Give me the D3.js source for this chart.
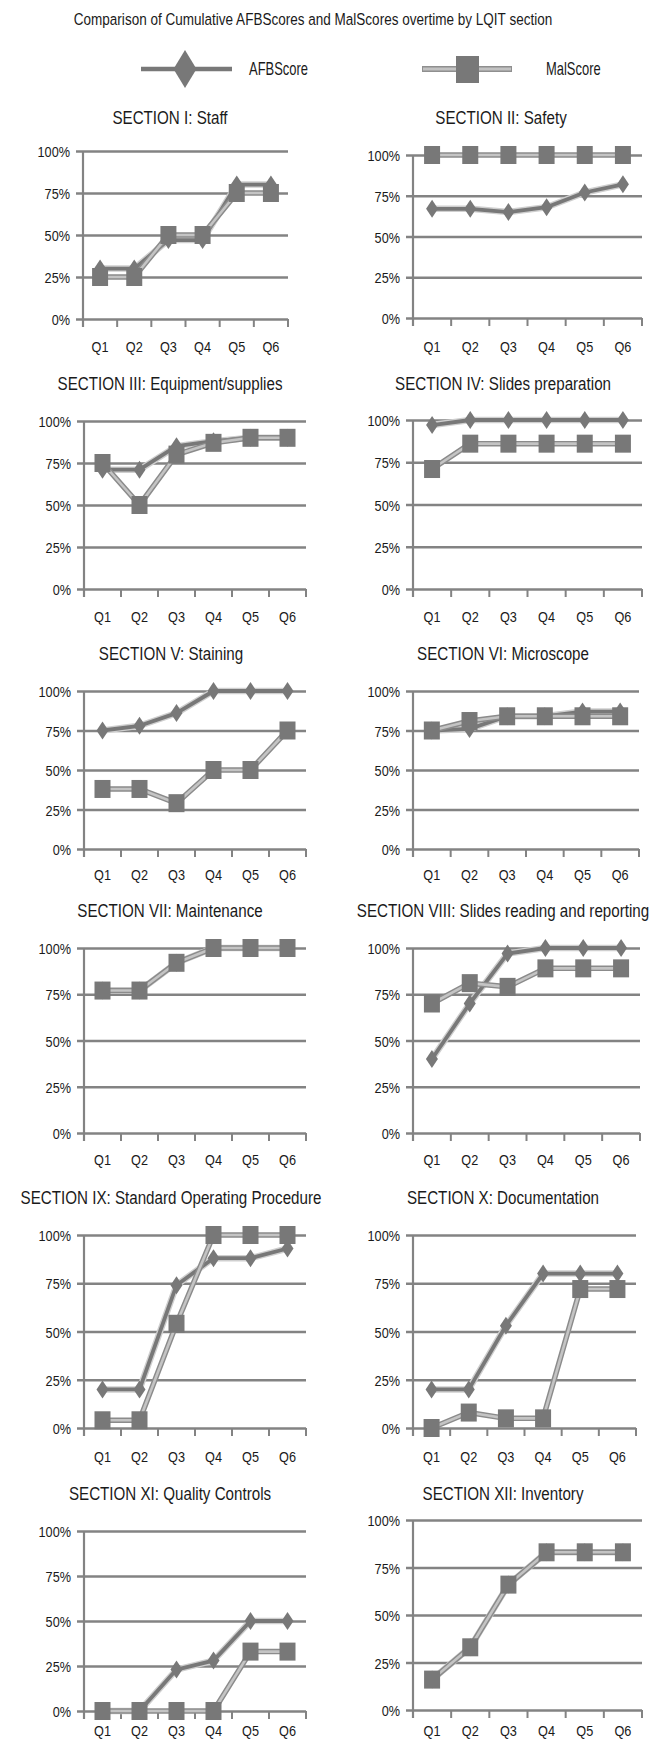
<!DOCTYPE html>
<html><head><meta charset="utf-8">
<script src="https://cdn.jsdelivr.net/npm/d3@7"></script>
<style>
body{margin:0;background:#fff}
text{font-family:"Liberation Sans",Arial,sans-serif;fill:#1a1a1a}
</style>
</head><body>
<svg id="c" width="668" height="1743"></svg>
<script>
// ---------- data ----------
const chartTitle = "Comparison of Cumulative AFBScores and MalScores overtime by LQIT section";
const seriesNames = ["AFBScore", "MalScore"];
const quarters = ["Q1", "Q2", "Q3", "Q4", "Q5", "Q6"];
const yTicks = [0, 25, 50, 75, 100];
const sectionTitles = [
  "SECTION I: Staff",
  "SECTION II: Safety",
  "SECTION III: Equipment/supplies",
  "SECTION IV: Slides preparation",
  "SECTION V: Staining",
  "SECTION VI: Microscope",
  "SECTION VII: Maintenance",
  "SECTION VIII: Slides reading and reporting",
  "SECTION IX: Standard Operating Procedure",
  "SECTION X: Documentation",
  "SECTION XI: Quality Controls",
  "SECTION XII: Inventory"
];
const afbScores = [
  [30, 30, 47, 47, 80, 80],
  [67, 67, 65, 68, 77, 82],
  [71, 71, 85, 88, 90, 90],
  [97, 100, 100, 100, 100, 100],
  [75, 78, 86, 100, 100, 100],
  [75, 76, 84, 84, 87, 87],
  [77, 77, 92, 100, 100, 100],
  [40, 70, 97, 100, 100, 100],
  [20, 20, 74, 88, 88, 93],
  [20, 20, 53, 80, 80, 80],
  [0, 0, 23, 28, 50, 50],
  [16, 33, 66, 83, 83, 83]
];
const malScores = [
  [25, 25, 50, 50, 75, 75],
  [100, 100, 100, 100, 100, 100],
  [75, 50, 80, 87, 90, 90],
  [71, 86, 86, 86, 86, 86],
  [38, 38, 29, 50, 50, 75],
  [75, 81, 84, 84, 84, 84],
  [77, 77, 92, 100, 100, 100],
  [70, 81, 79, 89, 89, 89],
  [4, 4, 54, 100, 100, 100],
  [0, 8, 5, 5, 72, 72],
  [0, 0, 0, 0, 33, 33],
  [16, 33, 66, 83, 83, 83]
];

// ---------- layout (pixel boxes of each small chart) ----------
// [x0, x1, yTop(100%), yBottom(0%), titleCenterX, titleCenterY, qLabelCenterY]
const layout = [
  [83, 288, 151, 319, 170, 117, 347],
  [413, 642, 155, 318, 501, 117, 347],
  [84, 306, 421, 589, 170, 383, 617],
  [413, 642, 420, 589, 503, 383, 617],
  [84, 306, 691, 849, 171, 653, 875],
  [413, 639, 691, 849, 503, 653, 875],
  [84, 306, 948, 1133, 170, 910, 1160],
  [413, 640, 948, 1133, 503, 910, 1160],
  [84, 306, 1235, 1428, 171, 1197, 1457],
  [413, 636, 1235, 1428, 503, 1197, 1457],
  [84, 306, 1531, 1711, 170, 1493, 1731],
  [413, 642, 1520, 1710, 503, 1493, 1731]
];

const SX = 0.82; // condensed look of the original typeface
const gridColor = "#838383";
const afbColor = "#787878";
const markerColor = "#787878";

const svg = d3.select("#c");

function label(parent, x, y, txt, size, anchor, sx) {
  return parent.append("text")
    .attr("transform", `translate(${x},${y}) scale(${sx || SX},1)`)
    .attr("text-anchor", anchor || "start")
    .style("font-size", size + "px").text(txt);
}
function diamondPath(w, h) {
  return `M0,${-h/2}L${w/2},0L0,${h/2}L${-w/2},0Z`;
}

// main title
label(svg, 313, 25, chartTitle, 16.5, "middle");

// legend
const lg = svg.append("g");
lg.append("line").attr("x1", 141).attr("x2", 232).attr("y1", 69).attr("y2", 69)
  .attr("stroke", afbColor).attr("stroke-width", 4.5);
lg.append("path").attr("d", diamondPath(23, 38)).attr("transform", "translate(185,69)")
  .attr("fill", markerColor);
label(lg, 249, 75, seriesNames[0], 17.5, "start", 0.74);
lg.append("line").attr("x1", 422).attr("x2", 512).attr("y1", 69).attr("y2", 69)
  .attr("stroke", "#8f8f8f").attr("stroke-width", 6);
lg.append("line").attr("x1", 423).attr("x2", 511).attr("y1", 69).attr("y2", 69)
  .attr("stroke", "#c2c2c2").attr("stroke-width", 3);
lg.append("rect").attr("x", 456).attr("y", 56).attr("width", 23).attr("height", 27)
  .attr("fill", markerColor);
label(lg, 546, 75, seriesNames[1], 17.5, "start", 0.74);

// panels
sectionTitles.forEach((title, i) => {
  const [x0, x1, yT, yB, tx, ty, qy] = layout[i];
  const g = svg.append("g");
  const x = d3.scaleBand().domain(quarters).range([x0, x1]).padding(0);
  const y = d3.scaleLinear().domain([0, 100]).range([yB, yT]);

  label(g, tx, ty + 6.5, title, 18.5, "middle");

  // y axis with gridlines
  const yAxis = d3.axisLeft(y).tickValues(yTicks).tickFormat(d => d + "%")
    .tickSize(-(x1 - x0)).tickPadding(13);
  const ya = g.append("g").attr("transform", `translate(${x0},0)`).call(yAxis);
  ya.select(".domain").remove();
  ya.selectAll(".tick line").attr("stroke", gridColor).attr("stroke-width", 2.5)
    .attr("x1", -7);
  ya.selectAll(".tick text").style("font-size", "15.5px").attr("fill", "#1a1a1a")
    .style("font-family", '"Liberation Sans",Arial,sans-serif')
    .attr("x", -13 / SX).attr("dy", "0.36em")
    .attr("transform", `scale(${SX},1)`);
  g.append("line").attr("x1", x0).attr("x2", x0).attr("y1", yT).attr("y2", yB + 8)
    .attr("stroke", gridColor).attr("stroke-width", 2.2);

  // x axis: labels centred in bands, tick marks at band boundaries
  const xAxis = d3.axisBottom(x).tickSize(0).tickPadding(0);
  const xa = g.append("g").attr("transform", `translate(0,${yB})`).call(xAxis);
  xa.select(".domain").remove();
  xa.selectAll(".tick text").style("font-size", "15.5px").attr("fill", "#1a1a1a")
    .style("font-family", '"Liberation Sans",Arial,sans-serif')
    .attr("dy", null).attr("y", qy - yB + 5.5)
    .attr("transform", `scale(${SX},1)`);
  const bounds = quarters.map(q => x(q)).concat([x1]);
  g.selectAll(".xt").data(bounds).join("line").attr("class", "xt")
    .attr("x1", d => d).attr("x2", d => d).attr("y1", yB).attr("y2", yB + 8)
    .attr("stroke", gridColor).attr("stroke-width", 2);

  const cx = q => x(q) + x.bandwidth() / 2;
  const line = d3.line().x((d, j) => cx(quarters[j])).y(d => y(d));

  // AFBScore series
  g.append("path").datum(afbScores[i]).attr("d", line).attr("fill", "none")
    .attr("stroke", "#cfcfcf").attr("stroke-width", 6.5).attr("stroke-linejoin", "round");
  g.append("path").datum(afbScores[i]).attr("d", line).attr("fill", "none")
    .attr("stroke", afbColor).attr("stroke-width", 3.8).attr("stroke-linejoin", "round");
  g.selectAll(".afb").data(afbScores[i]).join("path").attr("class", "afb")
    .attr("d", diamondPath(12, 18))
    .attr("transform", (d, j) => `translate(${cx(quarters[j])},${y(d)})`)
    .attr("fill", markerColor);

  // MalScore series
  g.append("path").datum(malScores[i]).attr("d", line).attr("fill", "none")
    .attr("stroke", "#8b8b8b").attr("stroke-width", 5.5).attr("stroke-linejoin", "round");
  g.append("path").datum(malScores[i]).attr("d", line).attr("fill", "none")
    .attr("stroke", "#c4c4c4").attr("stroke-width", 2.6).attr("stroke-linejoin", "round");
  g.selectAll(".mal").data(malScores[i]).join("rect").attr("class", "mal")
    .attr("x", (d, j) => cx(quarters[j]) - 8).attr("y", d => y(d) - 9)
    .attr("width", 16).attr("height", 18)
    .attr("fill", markerColor);
});
</script>
</body></html>
